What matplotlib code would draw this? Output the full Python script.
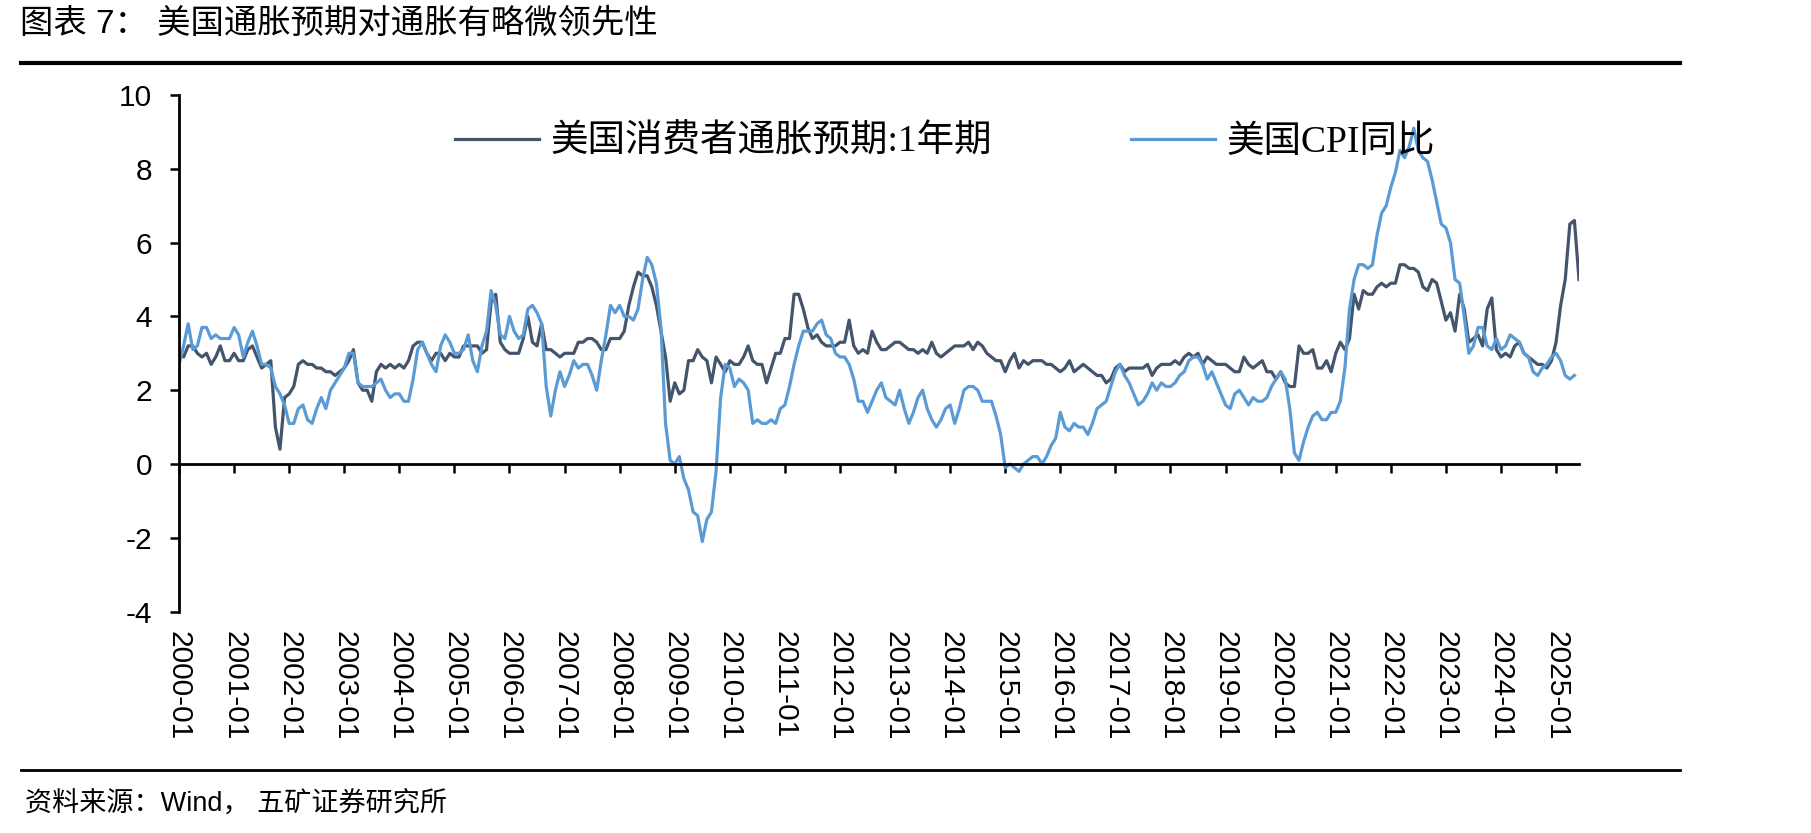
import matplotlib
matplotlib.use("Agg")
import matplotlib.pyplot as plt
from matplotlib.lines import Line2D
import numpy as np
import pandas as pd

plt.rcParams["axes.unicode_minus"] = False

# monthly data, 2000-01 onwards
expect_1y = [
    3.0, 2.9, 3.2, 3.2, 3.0, 2.9, 3.0, 2.7, 2.9, 3.2, 2.8, 2.8,
    3.0, 2.8, 2.8, 3.1, 3.2, 2.9, 2.6, 2.7, 2.8, 1.0, 0.4, 1.8,
    1.9, 2.1, 2.7, 2.8, 2.7, 2.7, 2.6, 2.6, 2.5, 2.5, 2.4, 2.5,
    2.6, 2.8, 3.1, 2.2, 2.0, 2.0, 1.7, 2.5, 2.7, 2.6, 2.7, 2.6,
    2.7, 2.6, 2.8, 3.2, 3.3, 3.3, 3.0, 2.8, 3.0, 3.0, 2.8, 3.0,
    2.9, 2.9, 3.2, 3.2, 3.2, 3.2, 3.0, 3.1, 4.4, 4.6, 3.3, 3.1,
    3.0, 3.0, 3.0, 3.4, 4.0, 3.3, 3.2, 3.8, 3.1, 3.1, 3.0, 2.9,
    3.0, 3.0, 3.0, 3.3, 3.3, 3.4, 3.4, 3.3, 3.1, 3.1, 3.4, 3.4,
    3.4, 3.6, 4.3, 4.8, 5.2, 5.1, 5.1, 4.8, 4.3, 3.6, 2.9, 1.7,
    2.2, 1.9, 2.0, 2.8, 2.8, 3.1, 2.9, 2.8, 2.2, 2.9, 2.7, 2.5,
    2.8, 2.7, 2.7, 2.9, 3.2, 2.8, 2.7, 2.7, 2.2, 2.6, 3.0, 3.0,
    3.4, 3.4, 4.6, 4.6, 4.2, 3.7, 3.4, 3.5, 3.3, 3.2, 3.2, 3.2,
    3.3, 3.3, 3.9, 3.2, 3.0, 3.1, 3.0, 3.6, 3.3, 3.1, 3.1, 3.2,
    3.3, 3.3, 3.2, 3.1, 3.1, 3.0, 3.1, 3.0, 3.3, 3.0, 2.9, 3.0,
    3.1, 3.2, 3.2, 3.2, 3.3, 3.1, 3.3, 3.2, 3.0, 2.9, 2.8, 2.8,
    2.5, 2.8, 3.0, 2.6, 2.8, 2.7, 2.8, 2.8, 2.8, 2.7, 2.7, 2.6,
    2.5, 2.6, 2.8, 2.5, 2.6, 2.7, 2.6, 2.5, 2.4, 2.4, 2.2, 2.3,
    2.6, 2.7, 2.5, 2.6, 2.6, 2.6, 2.6, 2.7, 2.4, 2.6, 2.7, 2.7,
    2.7, 2.8, 2.7, 2.9, 3.0, 2.9, 3.0, 2.7, 2.9, 2.8, 2.7, 2.7,
    2.7, 2.6, 2.5, 2.5, 2.9, 2.7, 2.6, 2.7, 2.8, 2.5, 2.5, 2.3,
    2.5, 2.2, 2.1, 2.1, 3.2, 3.0, 3.0, 3.1, 2.6, 2.6, 2.8, 2.5,
    3.0, 3.3, 3.1, 3.4, 4.6, 4.2, 4.7, 4.6, 4.6, 4.8, 4.9, 4.8,
    4.9, 4.9, 5.4, 5.4, 5.3, 5.3, 5.2, 4.8, 4.7, 5.0, 4.9, 4.4,
    3.9, 4.1, 3.6, 4.6, 4.2, 3.3, 3.4, 3.5, 3.2, 4.2, 4.5, 3.1,
    2.9, 3.0, 2.9, 3.2, 3.3, 3.0, 2.9, 2.8, 2.7, 2.7, 2.6, 2.8,
    3.3, 4.3, 5.0, 6.5, 6.6, 5.0,
]

cpi_yoy = [
    2.7, 3.2, 3.8, 3.1, 3.2, 3.7, 3.7, 3.4, 3.5, 3.4, 3.4, 3.4,
    3.7, 3.5, 2.9, 3.3, 3.6, 3.2, 2.7, 2.7, 2.6, 2.1, 1.9, 1.6,
    1.1, 1.1, 1.5, 1.6, 1.2, 1.1, 1.5, 1.8, 1.5, 2.0, 2.2, 2.4,
    2.6, 3.0, 3.0, 2.2, 2.1, 2.1, 2.1, 2.2, 2.3, 2.0, 1.8, 1.9,
    1.9, 1.7, 1.7, 2.3, 3.1, 3.3, 3.0, 2.7, 2.5, 3.2, 3.5, 3.3,
    3.0, 3.0, 3.1, 3.5, 2.8, 2.5, 3.2, 3.6, 4.7, 4.3, 3.5, 3.4,
    4.0, 3.6, 3.4, 3.5, 4.2, 4.3, 4.1, 3.8, 2.1, 1.3, 2.0, 2.5,
    2.1, 2.4, 2.8, 2.6, 2.7, 2.7, 2.4, 2.0, 2.8, 3.5, 4.3, 4.1,
    4.3, 4.0, 4.0, 3.9, 4.2, 5.0, 5.6, 5.4, 4.9, 3.7, 1.1, 0.1,
    0.0, 0.2, -0.4, -0.7, -1.3, -1.4, -2.1, -1.5, -1.3, -0.2, 1.8, 2.7,
    2.6, 2.1, 2.3, 2.2, 2.0, 1.1, 1.2, 1.1, 1.1, 1.2, 1.1, 1.5,
    1.6, 2.1, 2.7, 3.2, 3.6, 3.6, 3.6, 3.8, 3.9, 3.5, 3.4, 3.0,
    2.9, 2.9, 2.7, 2.3, 1.7, 1.7, 1.4, 1.7, 2.0, 2.2, 1.8, 1.7,
    1.6, 2.0, 1.5, 1.1, 1.4, 1.8, 2.0, 1.5, 1.2, 1.0, 1.2, 1.5,
    1.6, 1.1, 1.5, 2.0, 2.1, 2.1, 2.0, 1.7, 1.7, 1.7, 1.3, 0.8,
    -0.1, 0.0, -0.1, -0.2, 0.0, 0.1, 0.2, 0.2, 0.0, 0.2, 0.5, 0.7,
    1.4, 1.0, 0.9, 1.1, 1.0, 1.0, 0.8, 1.1, 1.5, 1.6, 1.7, 2.1,
    2.5, 2.7, 2.4, 2.2, 1.9, 1.6, 1.7, 1.9, 2.2, 2.0, 2.2, 2.1,
    2.1, 2.2, 2.4, 2.5, 2.8, 2.9, 2.9, 2.7, 2.3, 2.5, 2.2, 1.9,
    1.6, 1.5, 1.9, 2.0, 1.8, 1.6, 1.8, 1.7, 1.7, 1.8, 2.1, 2.3,
    2.5, 2.3, 1.5, 0.3, 0.1, 0.6, 1.0, 1.3, 1.4, 1.2, 1.2, 1.4,
    1.4, 1.7, 2.6, 4.2, 5.0, 5.4, 5.4, 5.3, 5.4, 6.2, 6.8, 7.0,
    7.5, 7.9, 8.5, 8.3, 8.6, 9.1, 8.5, 8.3, 8.2, 7.7, 7.1, 6.5,
    6.4, 6.0, 5.0, 4.9, 4.0, 3.0, 3.2, 3.7, 3.7, 3.2, 3.1, 3.4,
    3.1, 3.2, 3.5, 3.4, 3.3, 3.0, 2.9, 2.5, 2.4, 2.6, 2.7, 2.9,
    3.0, 2.8, 2.4, 2.3, 2.4,
]

months = pd.date_range("2000-01", periods=len(expect_1y), freq="MS")
tick_idx = list(range(0, len(months), 12))
tick_labels = [months[i].strftime("%Y-%m") for i in tick_idx]

label_expect = "美国消费者通胀预期:1年期"
label_cpi = "美国CPI同比"

cjk = ["Liberation Sans", "Noto Sans CJK SC"]
legend_font = ["Liberation Serif", "Noto Sans CJK SC"]

fig = plt.figure(figsize=(18.11, 8.33), dpi=100)
ax = fig.add_axes([179 / 1811, 1 - 611.6 / 833, 1400 / 1811, (611.6 - 95) / 833])

x = np.arange(len(expect_1y))
ax.plot(x, expect_1y, color="#44546A", lw=2.3, label=label_expect)
ax.plot(np.arange(len(cpi_yoy)), cpi_yoy, color="#5B9BD5", lw=2.3, label=label_cpi)

ax.set_xlim(0, len(expect_1y) - 1)
ax.set_ylim(-4, 10)
ax.set_yticks(np.arange(-4, 11, 2))

for s in ["top", "right"]:
    ax.spines[s].set_visible(False)
ax.spines["left"].set_linewidth(2.0)
ax.spines["bottom"].set_linewidth(2.0)
ax.spines["bottom"].set_position(("data", 0))

ax.tick_params(axis="y", direction="out", length=6.5, width=1.8, pad=13,
               labelsize=21.5)
ax.set_xticks(tick_idx)
ax.tick_params(axis="x", direction="out", length=6.5, width=1.8,
               labelbottom=False)
for lab in ax.get_yticklabels():
    lab.set_fontfamily("Liberation Sans")

# date labels sit at the bottom of the plot, not on the zero line
sec = ax.secondary_xaxis("bottom")
sec.set_xticks(tick_idx, tick_labels, rotation=270)
sec.tick_params(length=0, pad=14, labelsize=21.5)
sec.spines["bottom"].set_visible(False)
for lab in sec.get_xticklabels():
    lab.set_fontfamily("Liberation Sans")

fig.legend(loc="center left", bbox_to_anchor=(455 / 1811, 1 - 142 / 833),
           ncol=2, frameon=False, prop={"family": legend_font, "size": 27},
           handlelength=2.25, handletextpad=0.3, columnspacing=3.7,
           borderpad=0, borderaxespad=0)

fig.text(20 / 1811, 1 - 24 / 833, "图表 7： 美国通胀预期对通胀有略微领先性",
         fontsize=24, family=cjk, va="center", ha="left")
fig.text(25 / 1811, 1 - 805 / 833, "资料来源：Wind， 五矿证券研究所",
         fontsize=19.5, family=cjk, va="center", ha="left")

fig.add_artist(Line2D([21 / 1811, 1680 / 1811], [1 - 62.5 / 833] * 2,
                      color="black", lw=3.0, transform=fig.transFigure))
fig.add_artist(Line2D([21 / 1811, 1680 / 1811], [1 - 770 / 833] * 2,
                      color="black", lw=2.0, transform=fig.transFigure))

fig.savefig("out.png", dpi=100, facecolor="white")
